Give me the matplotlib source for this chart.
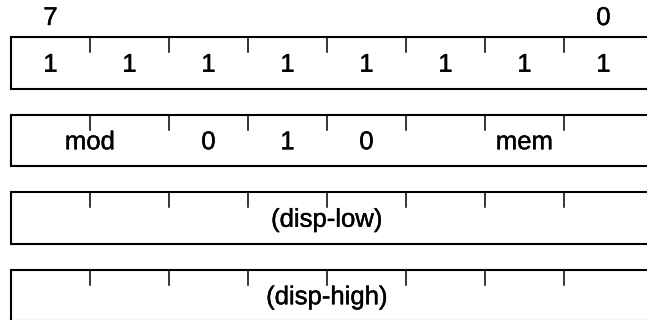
"""
Instruction encoding diagram: 8-bit opcode byte, ModR/M byte, displacement bytes
"""

import matplotlib
matplotlib.use("Agg")
import matplotlib.pyplot as plt
import matplotlib.patheffects as pe

# Bit numbers shown above the first byte
bit_numbers = ["7", "0"]
bit_number_cells = [0, 7]

# Byte 1: all ones
row1_names = ["1", "1", "1", "1", "1", "1", "1", "1"]
row1_widths = [1, 1, 1, 1, 1, 1, 1, 1]

# Byte 2: mod / reg field / r/m
row2_names = ["mod", "0", "1", "0", "mem"]
row2_widths = [2, 1, 1, 1, 3]

# Bytes 3 and 4: displacement
row3_names = ["(disp-low)"]
row3_widths = [8]
row4_names = ["(disp-high)"]
row4_widths = [8]

rows = [
    (row1_names, row1_widths),
    (row2_names, row2_widths),
    (row3_names, row3_widths),
    (row4_names, row4_widths),
]

# layout in pixels
W, H = 647, 320
LEFT = 11
CELL = 79
TOP = 37
ROW_H = 51.5
PITCH = 77.5
TICK = 15
LW = 1.5
FS = 18.5

plt.rcParams["font.family"] = ["Liberation Sans", "DejaVu Sans"]
heavy = [pe.withStroke(linewidth=0.3, foreground="black")]

fig = plt.figure(figsize=(W / 100, H / 100), dpi=100)
ax = fig.add_axes([0, 0, 1, 1])
ax.set_xlim(0, W)
ax.set_ylim(H, 0)
ax.axis("off")

# bit numbers
for txt, cell in zip(bit_numbers, bit_number_cells):
    ax.text(LEFT + CELL * (cell + 0.5), 18, txt, ha="center", va="center",
            fontsize=FS, color="black", path_effects=heavy)

for i, (names, widths) in enumerate(rows):
    top = TOP + PITCH * i
    bot = top + ROW_H
    ax.plot([LEFT, W + 5], [top, top], color="black", lw=LW, solid_capstyle="butt")
    ax.plot([LEFT, W + 5], [bot, bot], color="black", lw=LW, solid_capstyle="butt")
    ax.plot([LEFT, LEFT], [top, bot], color="black", lw=LW)
    # bit ticks along the top edge
    for b in range(1, 8):
        x = LEFT + CELL * b
        ax.plot([x, x], [top, top + TICK], color="black", lw=1.1)
    # field labels
    start = 0
    for name, w in zip(names, widths):
        cx = LEFT + CELL * (start + w / 2)
        ax.text(cx, top + ROW_H / 2 + 2, name, ha="center", va="center",
                fontsize=FS, color="black", path_effects=heavy)
        start += w

plt.savefig("out.png", dpi=100)
plt.close()
